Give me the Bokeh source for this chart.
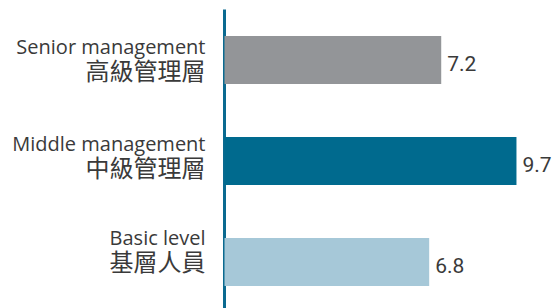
from bokeh.plotting import figure
from bokeh.models import Range1d, ColumnDataSource
from bokeh.core.properties import value
from bokeh.embed import file_html
from bokeh.resources import INLINE

# ---- data ----
labels_en = ["Senior management", "Middle management", "Basic level"]
labels_zh = ["高級管理層", "中級管理層", "基層人員"]
values = [7.2, 9.7, 6.8]
colors = ["#939598", "#006a8e", "#a6c8d8"]

# style: per-row vertical nudges for the category label block (px)
label_nudge = [0, -4, -11]

n = len(values)
ypos = [n - 1 - i for i in range(n)]

src = ColumnDataSource(dict(
    y=ypos, v=values, c=colors, en=labels_en, zh=labels_zh,
    vt=[f"{v:.1f}" for v in values],
    en_off=[-14 + d for d in label_nudge],
    zh_off=[9 + d for d in label_nudge],
))

W, H = 558, 308
px_per_unit = 30.1
zero_px = 224
x0 = -zero_px / px_per_unit
x1 = (W - zero_px) / px_per_unit
y_unit = 101.0
y0 = -46.5 / y_unit

p = figure(width=W, height=H, output_backend="svg", toolbar_location=None,
           x_range=Range1d(x0, x1), y_range=Range1d(y0, y0 + H / y_unit),
           min_border=0, outline_line_color=None)
p.xaxis.visible = False
p.yaxis.visible = False
p.xgrid.visible = False
p.ygrid.visible = False
p.background_fill_color = "white"
p.border_fill_color = "white"

p.segment(x0=0, y0=y0 + (H - 9) / y_unit, x1=0, y1=y0, line_color="#0b6a90", line_width=3)

p.hbar(y="y", left=0, right="v", height=0.475, fill_color="c", line_color=None, source=src)

p.text(x="v", y="y", text="vt", x_offset=6, y_offset=3, text_baseline="middle", text_align="left",
       text_font=value("Roboto"), text_font_size="21px", text_color="#3a3a3a",
       source=src)

p.text(x=0, y="y", text="en", x_offset=-19, y_offset="en_off", text_align="right",
       text_baseline="alphabetic", text_font=value("Open Sans"), text_font_size="20px",
       text_color="#3a3a3a", source=src)
p.text(x=0, y="y", text="zh", x_offset=-19, y_offset="zh_off", text_align="right",
       text_baseline="alphabetic", text_font=value("Noto Sans CJK TC"), text_font_size="24px",
       text_color="#3a3a3a", source=src)

open("out.html", "w").write(file_html(p, INLINE))
